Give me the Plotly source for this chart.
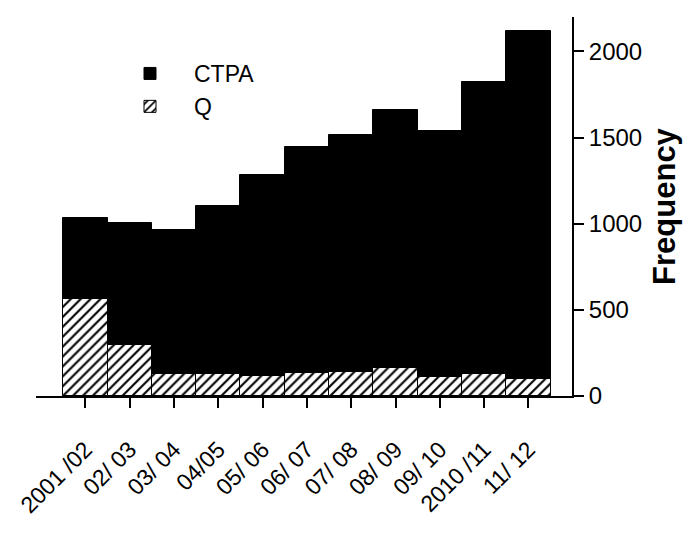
import plotly.graph_objects as go

# Annual counts per financial year
years = ["2001 /02", "02/ 03", "03/ 04", "04/05", "05/ 06", "06/ 07",
         "07/ 08", "08/ 09", "09/ 10", "2010 /11", "11/ 12"]
ctpa = [1032, 1003, 966, 1105, 1283, 1444, 1514, 1659, 1539, 1822, 2121]
q_scans = [561, 296, 130, 128, 118, 135, 141, 164, 112, 128, 99]
y_ticks = [0, 500, 1000, 1500, 2000]

FONT = "Liberation Sans, Arial, sans-serif"

fig = go.Figure()

fig.add_trace(go.Bar(
    x=years, y=ctpa, name="CTPA",
    marker=dict(color="black", line=dict(color="black", width=1)),
))
fig.add_trace(go.Bar(
    x=years, y=q_scans, name="Q",
    marker=dict(
        color="white",
        line=dict(color="black", width=1),
        pattern=dict(shape="/", fgcolor="black", bgcolor="white",
                     size=7, solidity=0.3, fgopacity=1),
    ),
))

fig.update_layout(
    width=684, height=540,
    margin=dict(l=36, r=112, t=17, b=144, autoexpand=False),
    paper_bgcolor="white", plot_bgcolor="white",
    barmode="overlay", bargap=0,
    font=dict(family=FONT, color="black", size=22),
    showlegend=True,
    legend=dict(
        x=(106 - 36) / 536, y=(396 - 52) / 379,
        xanchor="left", yanchor="top",
        font=dict(size=23), bgcolor="rgba(0,0,0,0)",
        traceorder="normal", itemwidth=78,
    ),
)

fig.update_xaxes(
    type="category", range=[-1.116, 10.983],
    tickmode="array", tickvals=years, ticktext=years,
    showline=True, linecolor="black", linewidth=2,
    ticks="outside", ticklen=10, tickwidth=2, tickcolor="black",
    tickangle=-45, tickfont=dict(size=23), ticklabelstandoff=19,
    showgrid=False, zeroline=False, automargin=False,
)
fig.update_yaxes(
    side="right", range=[0, 2200],
    tickvals=y_ticks, ticktext=[str(v) for v in y_ticks],
    showline=True, linecolor="black", linewidth=2,
    ticks="outside", ticklen=10, tickwidth=2, tickcolor="black",
    tickfont=dict(size=24),
    title=dict(text="<b>Frequency</b>", font=dict(size=31), standoff=12),
    showgrid=False, zeroline=False, automargin=False,
)

fig.write_html("out.html")
